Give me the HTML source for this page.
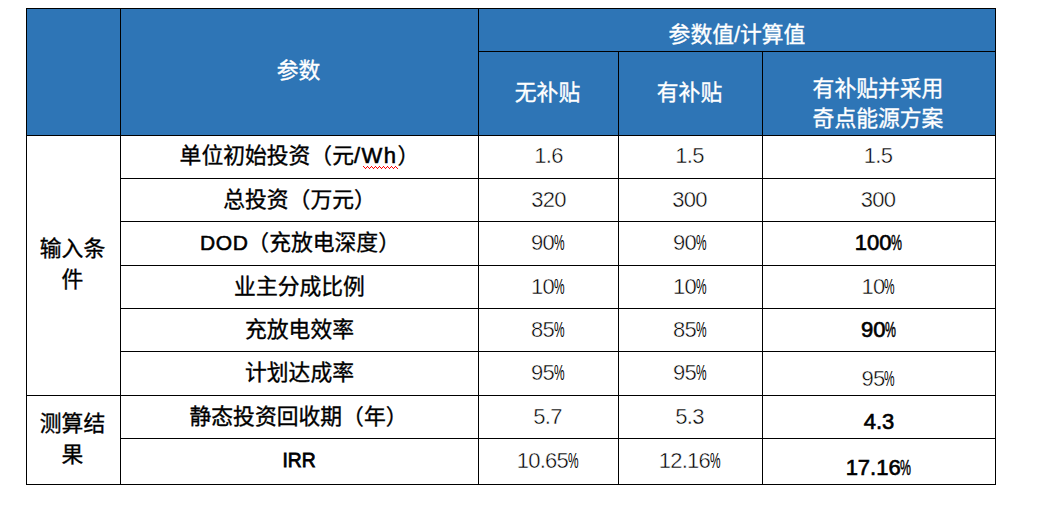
<!DOCTYPE html>
<html lang="zh-CN"><head><meta charset="utf-8"><title>参数表</title>
<style>
html,body{margin:0;padding:0;background:#fff}
body{width:1059px;height:510px;overflow:hidden;position:relative;font-family:"Liberation Sans","Noto Sans CJK SC",sans-serif;color:#000}
table.g{position:absolute;left:26px;top:8px;width:970px;border-collapse:separate;border-spacing:0;table-layout:fixed;
  border-top:1px solid #000;border-left:1px solid #000}
.g th,.g td{position:relative;box-sizing:border-box;padding:0;margin:0;border-right:1px solid #000;border-bottom:1px solid #000;
  font-weight:normal;text-align:center;overflow:visible}
.hd th{background:#2e75b6;color:#fff}
.ln{position:absolute;left:0;width:100%;height:40px;line-height:40px;font-size:21px;text-align:center;white-space:nowrap}
.ln span{line-height:0}
.cj{font-family:"Liberation Sans","Noto Sans CJK SC",sans-serif;font-size:21.8px;font-weight:normal;white-space:nowrap;-webkit-text-stroke:.35px currentColor}
.lb{font-weight:normal;font-size:21px;letter-spacing:.55px;-webkit-text-stroke:.55px currentColor}
.dod{position:relative;left:1px}
.wh{font-size:22px;letter-spacing:1.5px}
.zz{position:absolute;left:242px;top:30px;width:35px;height:3px;fill:#f00;shape-rendering:crispEdges}
.irr{display:inline-block;font-size:20.5px;letter-spacing:0;-webkit-text-stroke:.8px currentColor;transform:translateX(-.6px) scaleX(.94)}
.v{font-size:22px;letter-spacing:-.75px;-webkit-text-stroke:.45px #fff}
.v.b{font-weight:normal;font-size:22px;letter-spacing:0;-webkit-text-stroke:.65px #000}
.v.b .pc{-webkit-text-stroke:.5px #000;transform:scaleX(.56);width:12px;letter-spacing:0}
.pc{display:inline-block;width:12.5px;margin-left:-.3px;transform:scaleX(.54);transform-origin:0 50%;text-align:left;letter-spacing:0;-webkit-text-stroke:0}
</style></head>
<body>
<table class="g"><colgroup><col style="width:94px"><col style="width:358px"><col style="width:140px"><col style="width:144px"><col style="width:233px"></colgroup>
<tr style="height:43px" class="hd"><th rowspan="2"></th><th rowspan="2"><div class="ln" style="top:42px;left:-1px"><span class="cj">参数</span></div></th><th colspan="3"><div class="ln" style="top:6px"><span class="cj">参数值/计算值</span></div></th></tr>
<tr style="height:84px" class="hd"><th><div class="ln" style="top:21px;left:-1px"><span class="cj">无补贴</span></div></th><th><div class="ln" style="top:21px;left:-1px"><span class="cj">有补贴</span></div></th><th><div class="ln" style="top:17px;left:-1px"><span class="cj">有补贴并采用</span></div><div class="ln" style="top:47px;left:-1px"><span class="cj">奇点能源方案</span></div></th></tr>
<tr style="height:43px"><th rowspan="6" class="side"><div class="ln" style="top:93px;left:-1px"><span class="cj">输入条</span></div><div class="ln" style="top:124px;left:-1px"><span class="cj">件</span></div></th><td class="lab"><div class="ln" style="top:0px"><span class="cj">单位初始投资（元</span><span class="lb wh">/Wh</span><span class="cj">）</span></div><svg class="zz" viewBox="0 0 35 3" aria-hidden="true"><path d="M0 0h1v1h-1zM1 1h1v1h-1zM2 2h1v1h-1zM3 1h1v1h-1zM4 0h1v1h-1zM5 1h1v1h-1zM6 2h1v1h-1zM7 1h1v1h-1zM8 0h1v1h-1zM9 1h1v1h-1zM10 2h1v1h-1zM11 1h1v1h-1zM12 0h1v1h-1zM13 1h1v1h-1zM14 2h1v1h-1zM15 1h1v1h-1zM16 0h1v1h-1zM17 1h1v1h-1zM18 2h1v1h-1zM19 1h1v1h-1zM20 0h1v1h-1zM21 1h1v1h-1zM22 2h1v1h-1zM23 1h1v1h-1zM24 0h1v1h-1zM25 1h1v1h-1zM26 2h1v1h-1zM27 1h1v1h-1zM28 0h1v1h-1zM29 1h1v1h-1zM30 2h1v1h-1zM31 1h1v1h-1zM32 0h1v1h-1zM33 1h1v1h-1zM34 2h1v1h-1z"/></svg></td><td><div class="ln v" style="top:0px">1.6</div></td><td><div class="ln v" style="top:0px;left:-1px">1.5</div></td><td><div class="ln v" style="top:0px;left:-1px">1.5</div></td></tr>
<tr style="height:43px"><td class="lab"><div class="ln" style="top:1px"><span class="cj">总投资（万元）</span></div></td><td><div class="ln v" style="top:1px">320</div></td><td><div class="ln v" style="top:1px;left:-1px">300</div></td><td><div class="ln v" style="top:1px;left:-1px">300</div></td></tr>
<tr style="height:44px"><td class="lab"><div class="ln" style="top:1px"><span class="lb dod">DOD</span><span class="cj">（充放电深度）</span></div></td><td><div class="ln v" style="top:1px">90<span class="pc">%</span></div></td><td><div class="ln v" style="top:1px">90<span class="pc">%</span></div></td><td><div class="ln v b" style="top:1px">100<span class="pc">%</span></div></td></tr>
<tr style="height:43px"><td class="lab"><div class="ln" style="top:1px"><span class="cj">业主分成比例</span></div></td><td><div class="ln v" style="top:1px">10<span class="pc">%</span></div></td><td><div class="ln v" style="top:1px">10<span class="pc">%</span></div></td><td><div class="ln v" style="top:1px">10<span class="pc">%</span></div></td></tr>
<tr style="height:43px"><td class="lab"><div class="ln" style="top:1px"><span class="cj">充放电效率</span></div></td><td><div class="ln v" style="top:1px">85<span class="pc">%</span></div></td><td><div class="ln v" style="top:1px">85<span class="pc">%</span></div></td><td><div class="ln v b" style="top:1px">90<span class="pc">%</span></div></td></tr>
<tr style="height:44px"><td class="lab"><div class="ln" style="top:1px"><span class="cj">计划达成率</span></div></td><td><div class="ln v" style="top:1px">95<span class="pc">%</span></div></td><td><div class="ln v" style="top:1px">95<span class="pc">%</span></div></td><td><div class="ln v" style="top:7px">95<span class="pc">%</span></div></td></tr>
<tr style="height:43px"><th rowspan="2" class="side"><div class="ln" style="top:8px;left:-1px"><span class="cj">测算结</span></div><div class="ln" style="top:39px;left:-1px"><span class="cj">果</span></div></th><td class="lab"><div class="ln" style="top:1px;left:-1px"><span class="cj">静态投资回收期（年）</span></div></td><td><div class="ln v" style="top:1px;left:-1px">5.7</div></td><td><div class="ln v" style="top:1px;left:-1px">5.3</div></td><td><div class="ln v b" style="top:6px">4.3</div></td></tr>
<tr style="height:46px"><td class="lab"><div class="ln" style="top:1px"><span class="lb irr">IRR</span></div></td><td><div class="ln v" style="top:2px">10.65<span class="pc">%</span></div></td><td><div class="ln v" style="top:2px">12.16<span class="pc">%</span></div></td><td><div class="ln v b" style="top:9px">17.16<span class="pc">%</span></div></td></tr>
</table>
</body></html>
